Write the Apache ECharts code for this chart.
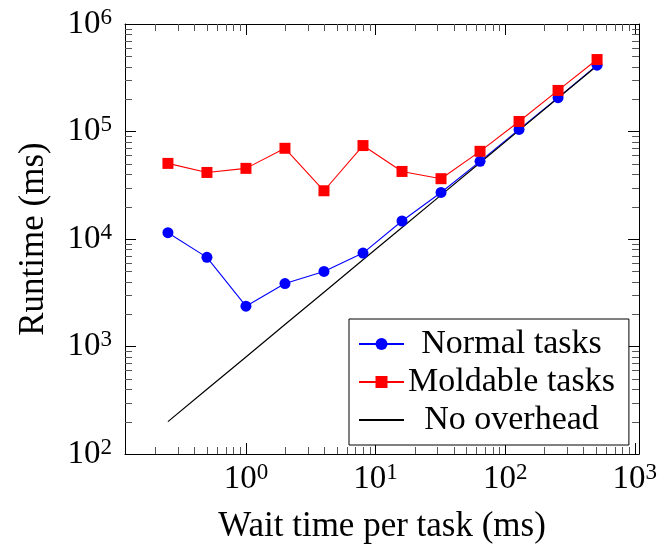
<!DOCTYPE html>
<html>
<head>
<meta charset="UTF-8">
<script src="https://cdn.jsdelivr.net/npm/echarts@6/dist/echarts.min.js"></script>
<style>
html, body { margin: 0; padding: 0; background: #fff; }
#main { width: 660px; height: 549px; }
</style>
</head>
<body>
<div id="main"></div>
<script>
// wait time per task (ms)
var waitTimes = [0.25, 0.5, 1, 2, 4, 8, 16, 32, 64, 128, 256, 512];
// runtime (ms)
var normalTasks = [11450, 6750, 2370, 3850, 4990, 7400, 14700, 27100, 52800, 104500, 206500, 414000];
var moldableTasks = [50500, 41600, 45400, 69800, 28100, 74000, 42500, 36400, 65400, 124000, 241000, 467000];
var noOverhead = [200, 400, 800, 1600, 3200, 6400, 12800, 25600, 51200, 102400, 204800, 409600];

var xMinorTicks = [0.2, 0.3, 0.4, 0.5, 0.6, 0.7, 0.8, 0.9,
                   2, 3, 4, 5, 6, 7, 8, 9,
                   20, 30, 40, 50, 60, 70, 80, 90,
                   200, 300, 400, 500, 600, 700, 800, 900];
var yMinorTicks = [200, 300, 400, 500, 600, 700, 800, 900,
                   2000, 3000, 4000, 5000, 6000, 7000, 8000, 9000,
                   20000, 30000, 40000, 50000, 60000, 70000, 80000, 90000,
                   200000, 300000, 400000, 500000, 600000, 700000, 800000, 900000];

var FONT = 'Liberation Serif';
var MINOR = 7;

function pairs(xs, ys) {
    return xs.map(function (x, i) { return [x, ys[i]]; });
}

function powLabel(v) {
    var e = Math.log10(v);
    var r = Math.round(e);
    if (Math.abs(e - r) > 1e-6) return '';
    return '{b|10}{s|' + r + '}';
}

var labelRich = {
    b: { fontFamily: FONT, fontSize: 33, lineHeight: 36, color: '#000' },
    s: { fontFamily: FONT, fontSize: 23, verticalAlign: 'top', color: '#000' }
};

function tickStyle(show) {
    return {
        show: show,
        inside: true,
        length: 11,
        lineStyle: { color: '#000', width: 1 }
    };
}

function minorX(params, api) {
    var cs = params.coordSys;
    var x = Math.round(api.coord([api.value(0), 1000])[0]) + 0.5;
    var bot = cs.y + cs.height, top = cs.y;
    return {
        type: 'group',
        children: [
            { type: 'line', shape: { x1: x, y1: bot, x2: x, y2: bot - MINOR }, style: { stroke: '#555', lineWidth: 1 } },
            { type: 'line', shape: { x1: x, y1: top, x2: x, y2: top + MINOR }, style: { stroke: '#555', lineWidth: 1 } }
        ]
    };
}

function minorY(params, api) {
    var cs = params.coordSys;
    var y = Math.round(api.coord([1, api.value(1)])[1]) + 0.5;
    var left = cs.x, right = cs.x + cs.width;
    return {
        type: 'group',
        children: [
            { type: 'line', shape: { x1: left, y1: y, x2: left + MINOR, y2: y }, style: { stroke: '#555', lineWidth: 1 } },
            { type: 'line', shape: { x1: right, y1: y, x2: right - MINOR, y2: y }, style: { stroke: '#555', lineWidth: 1 } }
        ]
    };
}

var chart = echarts.init(document.getElementById('main'));
chart.setOption({
    animation: false,
    backgroundColor: '#fff',
    grid: { left: 125, right: 18, top: 24, bottom: 95 },
    xAxis: [
        {
            type: 'log', logBase: 10,
            min: 0.1166, max: 1080,
            name: 'Wait time per task (ms)',
            nameLocation: 'middle',
            nameGap: 55,
            nameTextStyle: { fontFamily: FONT, fontSize: 35, color: '#000' },
            axisLine: { show: true, lineStyle: { color: '#000', width: 1 } },
            axisTick: tickStyle(true),
            axisLabel: {
                margin: 7,
                formatter: powLabel,
                rich: labelRich,
                showMinLabel: false,
                showMaxLabel: false
            },
            splitLine: { show: false },
            minorTick: { show: false }
        },
        {
            type: 'log', logBase: 10, position: 'top',
            min: 0.1166, max: 1080,
            axisLine: { show: true, lineStyle: { color: '#000', width: 1 } },
            axisTick: tickStyle(true),
            axisLabel: { show: false },
            splitLine: { show: false }
        }
    ],
    yAxis: [
        {
            type: 'log', logBase: 10,
            min: 100, max: 1000000,
            name: 'Runtime (ms)',
            nameLocation: 'middle',
            nameGap: 74,
            nameTextStyle: { fontFamily: FONT, fontSize: 35, color: '#000' },
            axisLine: { show: true, lineStyle: { color: '#000', width: 1 } },
            axisTick: tickStyle(true),
            axisLabel: {
                margin: 13,
                formatter: powLabel,
                rich: labelRich
            },
            splitLine: { show: false }
        },
        {
            type: 'log', logBase: 10, position: 'right',
            min: 100, max: 1000000,
            axisLine: { show: true, lineStyle: { color: '#000', width: 1 } },
            axisTick: tickStyle(true),
            axisLabel: { show: false },
            splitLine: { show: false }
        }
    ],
    legend: {
        left: 349,
        top: 319,
        orient: 'vertical',
        data: [
            { name: 'Normal tasks' },
            { name: 'Moldable tasks' },
            { name: 'No overhead', itemStyle: { opacity: 0 } }
        ],
        backgroundColor: '#fff',
        borderColor: '#000',
        borderWidth: 1,
        borderRadius: 0,
        padding: [8, 14, 8, 9],
        itemWidth: 45,
        itemHeight: 15,
        itemGap: 4,
        formatter: function (name) { return '{c|' + name + '}'; },
        textStyle: {
            fontFamily: FONT,
            fontSize: 34,
            color: '#000',
            rich: {
                c: { fontFamily: FONT, fontSize: 34, lineHeight: 30, width: 205, align: 'center', color: '#000' }
            }
        }
    },
    series: [
        {
            type: 'custom', silent: true,
            renderItem: minorX,
            data: pairs(xMinorTicks, xMinorTicks.map(function () { return 1000; }))
        },
        {
            type: 'custom', silent: true,
            renderItem: minorY,
            data: pairs(yMinorTicks.map(function () { return 1; }), yMinorTicks)
        },
        {
            name: 'Normal tasks',
            type: 'line',
            data: pairs(waitTimes, normalTasks),
            color: '#0000ff',
            symbol: 'circle',
            symbolSize: 11,
            lineStyle: { width: 1.1, color: '#0000ff' },
            itemStyle: { color: '#0000ff' }
        },
        {
            name: 'Moldable tasks',
            type: 'line',
            data: pairs(waitTimes, moldableTasks),
            color: '#ff0000',
            symbol: 'rect',
            symbolSize: 11,
            lineStyle: { width: 1.1, color: '#ff0000' },
            itemStyle: { color: '#ff0000' }
        },
        {
            name: 'No overhead',
            type: 'line',
            data: pairs(waitTimes, noOverhead),
            color: '#000',
            symbol: 'none',
            lineStyle: { width: 1.2, color: '#000' }
        }
    ]
});
</script>
</body>
</html>
